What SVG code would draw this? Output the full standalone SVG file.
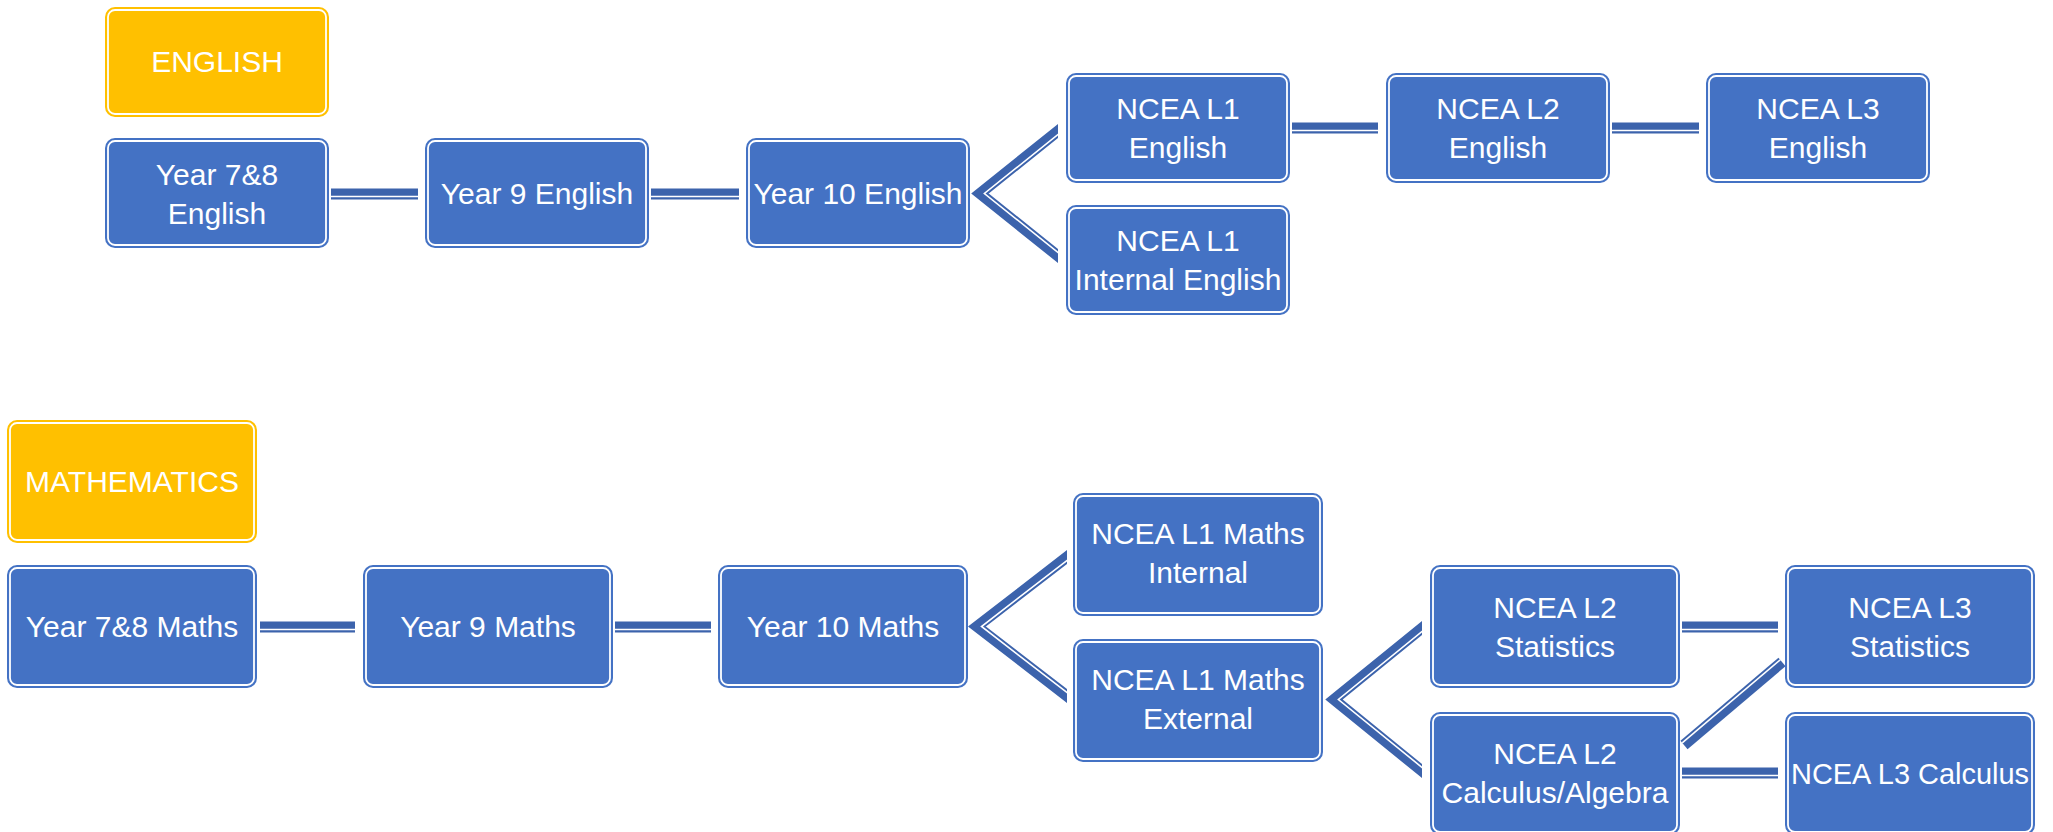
<svg xmlns="http://www.w3.org/2000/svg" width="2053" height="832" viewBox="0 0 2053 832">
<style>
.o{fill:#4472C4}
.h .o{fill:#FFC000}
.i{fill:none;stroke:#fff;stroke-width:1.8}
text{font-family:"Liberation Sans",Arial,sans-serif;font-size:30px;fill:#fff;text-anchor:middle}
.c{stroke:#3C63AC;stroke-width:11;fill:none;stroke-linejoin:miter;stroke-miterlimit:10}
.w{stroke:#fff;stroke-width:1.6;fill:none;stroke-linejoin:miter;stroke-miterlimit:10}
</style>
<defs>
<clipPath id="cv1"><rect x="950" y="100" width="108" height="180"/></clipPath>
<clipPath id="cv2"><rect x="950" y="530" width="117" height="190"/></clipPath>
<clipPath id="cv3"><rect x="1310" y="600" width="112" height="190"/></clipPath>
</defs>
<rect width="2053" height="832" fill="#fff"/>
<g id="connectors">
<path class="c" d="M331 194H418M651 194H739M1292 128H1378M1612 128H1699M260 627H355M615 627H711M1682 627H1778M1682 773H1778"/>
<path class="w" d="M331 196.5H418M651 196.5H739M1292 130.5H1378M1612 130.5H1699M260 629.5H355M615 629.5H711M1682 629.5H1778M1682 775.5H1778"/>
<g clip-path="url(#cv1)">
<path class="c" d="M1066 124.6L980 193.5L1066 262.4"/>
<path class="w" transform="translate(4.4,0)" d="M1066 124.6L980 193.5L1066 262.4"/>
</g>
<g clip-path="url(#cv2)">
<path class="c" d="M1075 550.8L977 626.5L1075 702.2"/>
<path class="w" transform="translate(4.5,0)" d="M1075 550.8L977 626.5L1075 702.2"/>
</g>
<g clip-path="url(#cv3)">
<path class="c" d="M1430 621.5L1334 699.5L1430 777.5"/>
<path class="w" transform="translate(4.4,0)" d="M1430 621.5L1334 699.5L1430 777.5"/>
</g>
<path class="c" d="M1684 745L1782 662"/>
<path class="w" transform="translate(-1.8,-2.1)" d="M1684 745L1782 662"/>
</g>
<g id="english" class="h"><rect class="o" x="105" y="7" width="224" height="110" rx="10"/><rect class="i" x="108" y="10" width="218" height="104" rx="7"/><text x="217" y="72">ENGLISH</text></g>
<g id="y78e"><rect class="o" x="105" y="138" width="224" height="110" rx="10"/><rect class="i" x="108" y="141" width="218" height="104" rx="7"/><text x="217" y="185">Year 7&amp;8</text><text x="217" y="224">English</text></g>
<g id="y9e"><rect class="o" x="425" y="138" width="224" height="110" rx="10"/><rect class="i" x="428" y="141" width="218" height="104" rx="7"/><text x="537" y="204">Year 9 English</text></g>
<g id="y10e"><rect class="o" x="746" y="138" width="224" height="110" rx="10"/><rect class="i" x="749" y="141" width="218" height="104" rx="7"/><text x="858" y="204">Year 10 English</text></g>
<g id="l1e"><rect class="o" x="1066" y="73" width="224" height="110" rx="10"/><rect class="i" x="1069" y="76" width="218" height="104" rx="7"/><text x="1178" y="119">NCEA L1</text><text x="1178" y="158">English</text></g>
<g id="l1ie"><rect class="o" x="1066" y="205" width="224" height="110" rx="10"/><rect class="i" x="1069" y="208" width="218" height="104" rx="7"/><text x="1178" y="251">NCEA L1</text><text x="1178" y="290">Internal English</text></g>
<g id="l2e"><rect class="o" x="1386" y="73" width="224" height="110" rx="10"/><rect class="i" x="1389" y="76" width="218" height="104" rx="7"/><text x="1498" y="119">NCEA L2</text><text x="1498" y="158">English</text></g>
<g id="l3e"><rect class="o" x="1706" y="73" width="224" height="110" rx="10"/><rect class="i" x="1709" y="76" width="218" height="104" rx="7"/><text x="1818" y="119">NCEA L3</text><text x="1818" y="158">English</text></g>
<g id="maths" class="h"><rect class="o" x="7" y="420" width="250" height="123" rx="10"/><rect class="i" x="10" y="423" width="244" height="117" rx="7"/><text x="132" y="492">MATHEMATICS</text></g>
<g id="y78m"><rect class="o" x="7" y="565" width="250" height="123" rx="10"/><rect class="i" x="10" y="568" width="244" height="117" rx="7"/><text x="132" y="637">Year 7&amp;8 Maths</text></g>
<g id="y9m"><rect class="o" x="363" y="565" width="250" height="123" rx="10"/><rect class="i" x="366" y="568" width="244" height="117" rx="7"/><text x="488" y="637">Year 9 Maths</text></g>
<g id="y10m"><rect class="o" x="718" y="565" width="250" height="123" rx="10"/><rect class="i" x="721" y="568" width="244" height="117" rx="7"/><text x="843" y="637">Year 10 Maths</text></g>
<g id="l1mi"><rect class="o" x="1073" y="493" width="250" height="123" rx="10"/><rect class="i" x="1076" y="496" width="244" height="117" rx="7"/><text x="1198" y="544">NCEA L1 Maths</text><text x="1198" y="583">Internal</text></g>
<g id="l1me"><rect class="o" x="1073" y="639" width="250" height="123" rx="10"/><rect class="i" x="1076" y="642" width="244" height="117" rx="7"/><text x="1198" y="690">NCEA L1 Maths</text><text x="1198" y="729">External</text></g>
<g id="l2s"><rect class="o" x="1430" y="565" width="250" height="123" rx="10"/><rect class="i" x="1433" y="568" width="244" height="117" rx="7"/><text x="1555" y="618">NCEA L2</text><text x="1555" y="657">Statistics</text></g>
<g id="l2c"><rect class="o" x="1430" y="712" width="250" height="123" rx="10"/><rect class="i" x="1433" y="715" width="244" height="117" rx="7"/><text x="1555" y="764">NCEA L2</text><text x="1555" y="803">Calculus/Algebra</text></g>
<g id="l3s"><rect class="o" x="1785" y="565" width="250" height="123" rx="10"/><rect class="i" x="1788" y="568" width="244" height="117" rx="7"/><text x="1910" y="618">NCEA L3</text><text x="1910" y="657">Statistics</text></g>
<g id="l3c"><rect class="o" x="1785" y="712" width="250" height="123" rx="10"/><rect class="i" x="1788" y="715" width="244" height="117" rx="7"/><text x="1910" y="784" textLength="238" lengthAdjust="spacingAndGlyphs">NCEA L3 Calculus</text></g>
</svg>
